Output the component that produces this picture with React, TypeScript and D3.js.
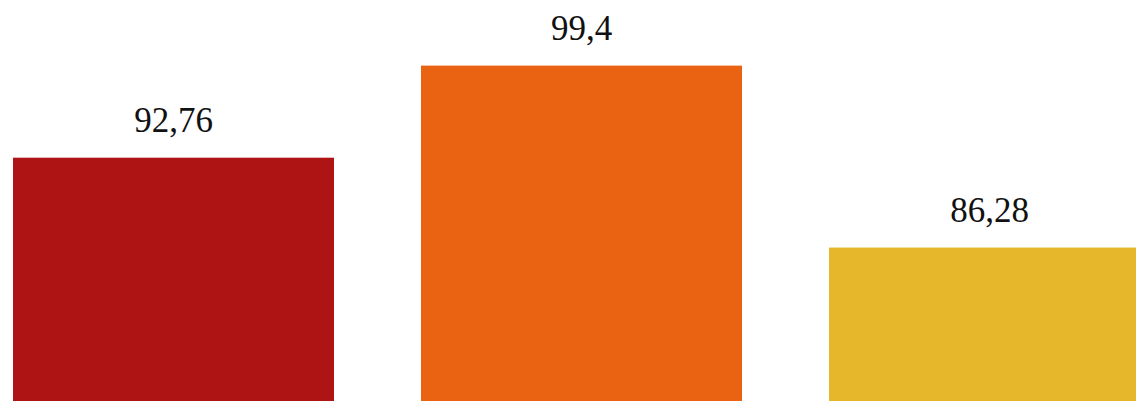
import React from "react";
import * as d3 from "d3";

const categories = ["A", "B", "C"];
const values = [92.76, 99.4, 86.28];
const colors = ["#AF1414", "#EA6312", "#E6B72A"];

const W = 1136;
const H = 401;

export default function App() {
  const x = d3
    .scaleBand<string>()
    .domain(categories)
    .range([13, 1150])
    .paddingInner(87 / 408)
    .paddingOuter(0);
  const y = d3.scaleLinear().domain([0, 100]).range([1444, 57.3]);
  const fmt = (v: number) => String(v).replace(".", ",");

  return (
    <div style={{ position: "absolute", left: 0, top: 0, width: W, height: H, overflow: "hidden", background: "#fff" }}>
      <svg width={W} height={H} style={{ display: "block" }}>
        {categories.map((c, i) => (
          <g key={c}>
            <rect
              x={x(c)!}
              y={y(values[i])}
              width={x.bandwidth()}
              height={y(0) - y(values[i])}
              fill={colors[i]}
            />
            <text
              x={x(c)! + x.bandwidth() / 2}
              y={y(values[i]) - 25.5}
              textAnchor="middle"
              fontFamily="'Liberation Serif', 'Times New Roman', serif"
              fontSize={35}
              fill="#111"
            >
              {fmt(values[i])}
            </text>
          </g>
        ))}
      </svg>
    </div>
  );
}
